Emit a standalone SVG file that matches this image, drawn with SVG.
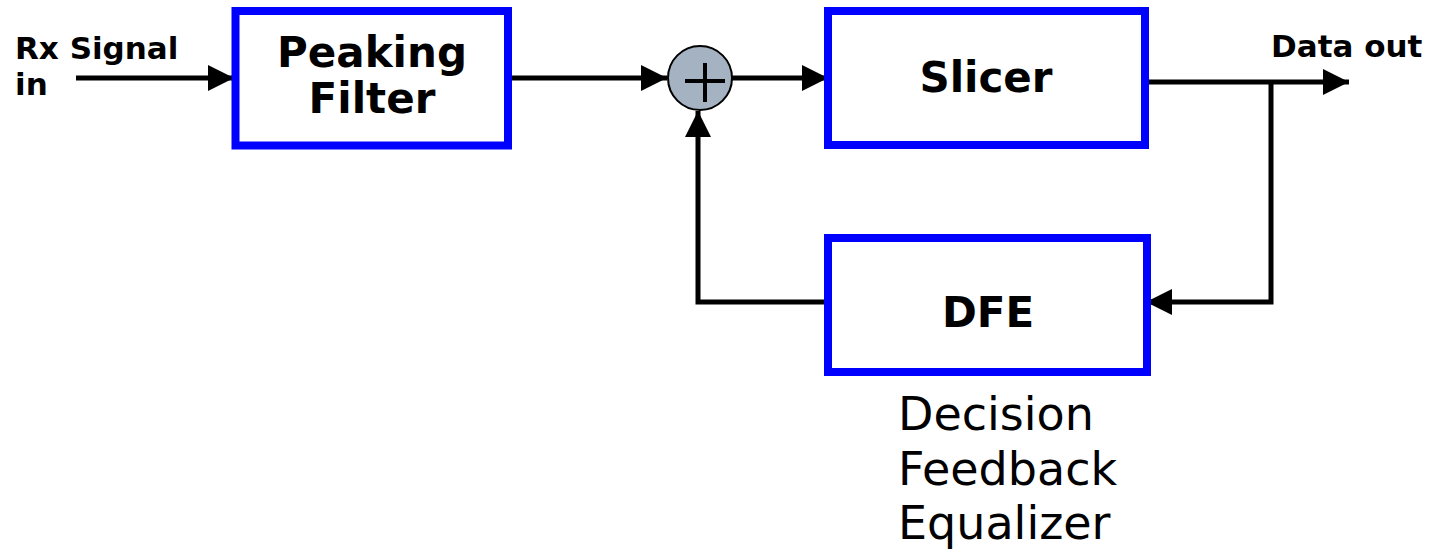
<svg xmlns="http://www.w3.org/2000/svg" width="1430" height="554" viewBox="0 0 1430 554">
  <style>
    .block { fill: #ffffff; stroke: #0000ff; stroke-width: 8; }
    .wire { fill: none; stroke: #000000; stroke-width: 5; stroke-linejoin: miter; stroke-linecap: butt; }
    .label { font-family: "DejaVu Sans", Verdana, sans-serif; font-weight: bold; fill: #000000; }
    .big { font-size: 42px; text-anchor: middle; }
    .small { font-size: 31px; }
    .note { font-family: "DejaVu Sans", Verdana, sans-serif; font-size: 46px; fill: #000000; }
  </style>
  <defs>
    <marker id="arrow" viewBox="0 0 26 26" refX="26" refY="13" markerWidth="26" markerHeight="26" markerUnits="userSpaceOnUse" orient="auto">
      <path d="M0,0 L26,13 L0,26 Z" fill="#000000"/>
    </marker>
  </defs>
  <rect width="1430" height="554" fill="#ffffff"/>

  <!-- signal paths -->
  <g id="connectors">
    <path class="wire" d="M76,78 H234" marker-end="url(#arrow)"/>
    <path class="wire" d="M508,78 H667" marker-end="url(#arrow)"/>
    <path class="wire" d="M732,78 H828" marker-end="url(#arrow)"/>
    <path class="wire" d="M1145,82 H1349" marker-end="url(#arrow)"/>
    <path class="wire" d="M1271,80 V302 H1146" marker-end="url(#arrow)"/>
    <path class="wire" d="M827,302 H698 V111" marker-end="url(#arrow)"/>
  </g>

  <!-- input / output labels -->
  <g id="input-label">
    <text class="label small" x="15" y="59">Rx Signal</text>
    <text class="label small" x="15" y="95">in</text>
  </g>
  <g id="output-label">
    <text class="label small" x="1271" y="57">Data out</text>
  </g>

  <g id="peaking-filter">
    <rect class="block" x="235.5" y="11" width="272.5" height="134.5"/>
    <text class="label big" x="372" y="67">Peaking</text>
    <text class="label big" x="372" y="113">Filter</text>
  </g>

  <g id="summer">
    <circle cx="700" cy="78" r="32" fill="#a4b2c1" stroke="#000000" stroke-width="2"/>
    <path d="M685,81 H725 M705,63 V102" stroke="#000000" stroke-width="4" fill="none"/>
  </g>

  <g id="slicer">
    <rect class="block" x="828" y="11" width="317" height="134"/>
    <text class="label big" x="986" y="92">Slicer</text>
  </g>

  <g id="dfe">
    <rect class="block" x="828" y="238" width="319" height="134"/>
    <text class="label big" x="988" y="327">DFE</text>
    <text class="note" x="898" y="430">Decision</text>
    <text class="note" x="898" y="485">Feedback</text>
    <text class="note" x="898" y="539">Equalizer</text>
  </g>
</svg>
